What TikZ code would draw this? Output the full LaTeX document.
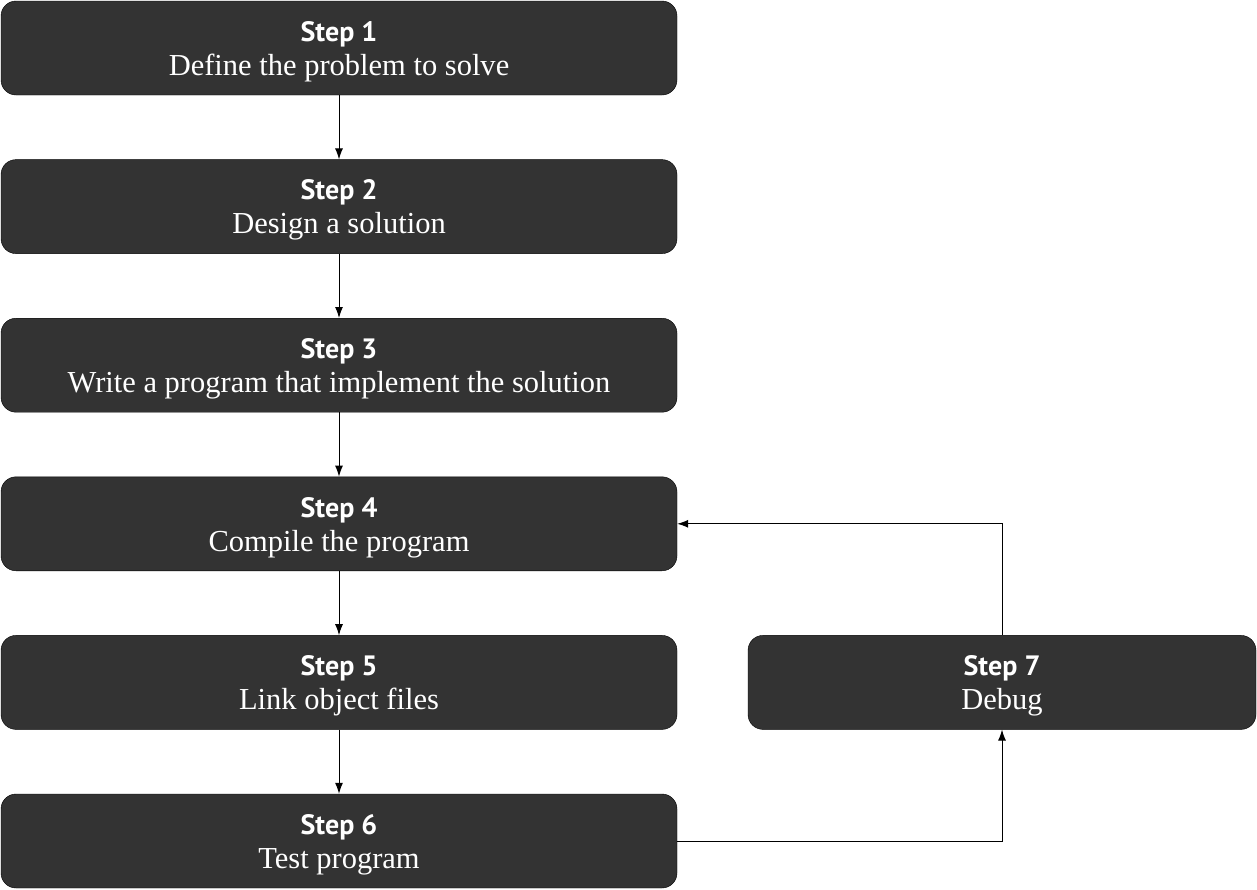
\documentclass[tikz,border=0pt]{standalone}
\usepackage{fontspec}
\setmainfont{Liberation Serif}
\newfontfamily\titlefont{PT Sans}
\newcommand{\steptitle}[1]{{\titlefont\fontsize{28}{31}\selectfont\bfseries\rule{0pt}{27pt}#1}}
\usetikzlibrary{positioning,arrows.meta}

\begin{document}
\begin{tikzpicture}[x=1pt,y=1pt,node distance=158.6pt,on grid,
    stepbox/.style={draw=black,fill=black!80,rounded corners=15pt,text=white,
      minimum width=676pt,minimum height=94pt,align=center,inner sep=0pt,
      font=\fontsize{30.5}{34}\selectfont},
    flow/.style={-{Latex[length=11pt,width=8pt]},line width=1pt}]

	\useasboundingbox (0,0) rectangle (1257,-889);

	\node[stepbox] (step1) at (339,-48) {\steptitle{Step 1}\\Define the problem to solve};
	\node[stepbox] (step2) [below=of step1] {\steptitle{Step 2}\\Design a solution};
	\node[stepbox] (step3) [below=of step2] {\steptitle{Step 3}\\Write a program that implement the solution};
	\node[stepbox] (step4) [below=of step3] {\steptitle{Step 4}\\Compile the program};
	\node[stepbox] (step5) [below=of step4] {\steptitle{Step 5}\\Link object files};
	\node[stepbox] (step6) [below=of step5] {\steptitle{Step 6}\\Test program};
	\node[stepbox,minimum width=508pt] (step7) [right=663pt of step5] {\steptitle{Step 7}\\Debug};

	\path[flow]
		(step1) edge (step2)
		(step2) edge (step3)
		(step3) edge (step4)
		(step4) edge (step5)
		(step5) edge (step6);
	\draw[flow] (step6.east) -| (step7.south);
	\draw[flow] (step7.north) |- (step4.east);
\end{tikzpicture}
\end{document}
